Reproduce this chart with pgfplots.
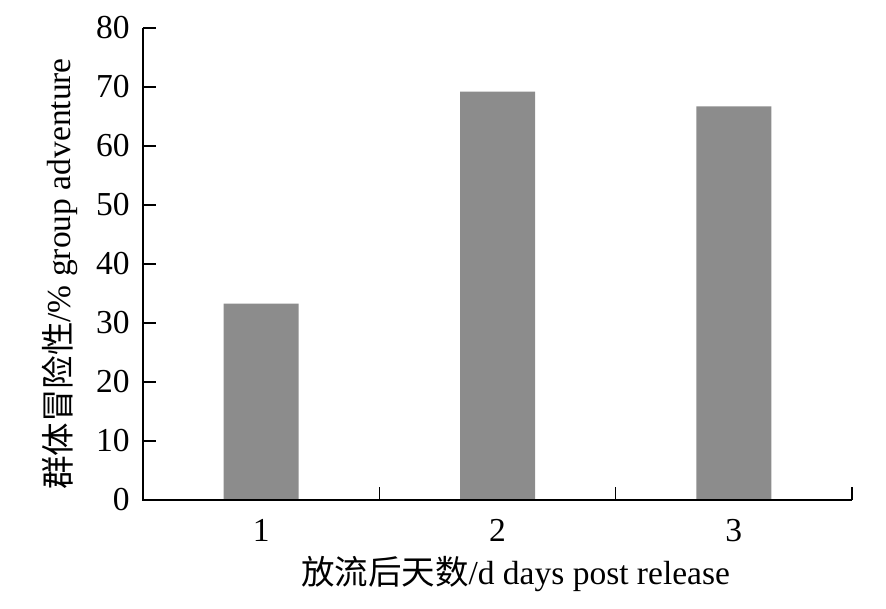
\documentclass[border=0pt]{standalone}
\usepackage{fontspec}
\setmainfont{Liberation Serif}
\newfontfamily\cjk{Noto Sans CJK SC}
\usepackage{pgfplots}
\pgfplotsset{compat=1.18}

\begin{document}
\begin{tikzpicture}
\fontsize{33.5}{40}\selectfont
\path[use as bounding box] (-143pt,-108pt) rectangle (743pt,500pt);
\begin{axis}[
  ybar, bar width=75pt,
  at={(0pt,0pt)}, anchor=origin,
  scale only axis,
  width=709pt, height=472pt,
  xmin=0.5, xmax=3.5,
  ymin=0, ymax=80,
  axis line style={draw=none},
  clip=false,
  xtick pos=bottom, ytick pos=left,
  tick align=inside,
  xtick={1,2,3},
  xticklabels={1,2,3},
  minor xtick={1.5,2.5,3.5},
  major x tick style={draw=none},
  minor x tick style={draw=black, line width=1.2pt},
  minor tick length=13pt,
  ytick={0,10,...,80},
  major tick length=13pt,
  y tick style={draw=black, line width=1.2pt},
  /pgf/number format/assume math mode=true,
  ticklabel style={font=\fontsize{33.5}{40}\selectfont},
  xticklabel style={yshift=-8pt},
  yticklabel style={xshift=-2pt},
  xlabel={{\cjk 放流后天数}/d days post release},
  ylabel={{\cjk 群体冒险性}/\% group adventure},
  label style={font=\fontsize{33.5}{40}\selectfont},
  xlabel style={yshift=8pt, xshift=18pt},
  ylabel style={xshift=-10pt, yshift=-4pt},
]
\addplot[fill=black!45, draw=none] coordinates {(1,33.3) (2,69.2) (3,66.7)};
% left and bottom axis lines only
\draw[line width=1.2pt] (rel axis cs:0,1) -- (rel axis cs:0,0) -- (rel axis cs:1,0);
\end{axis}
\end{tikzpicture}
\end{document}
